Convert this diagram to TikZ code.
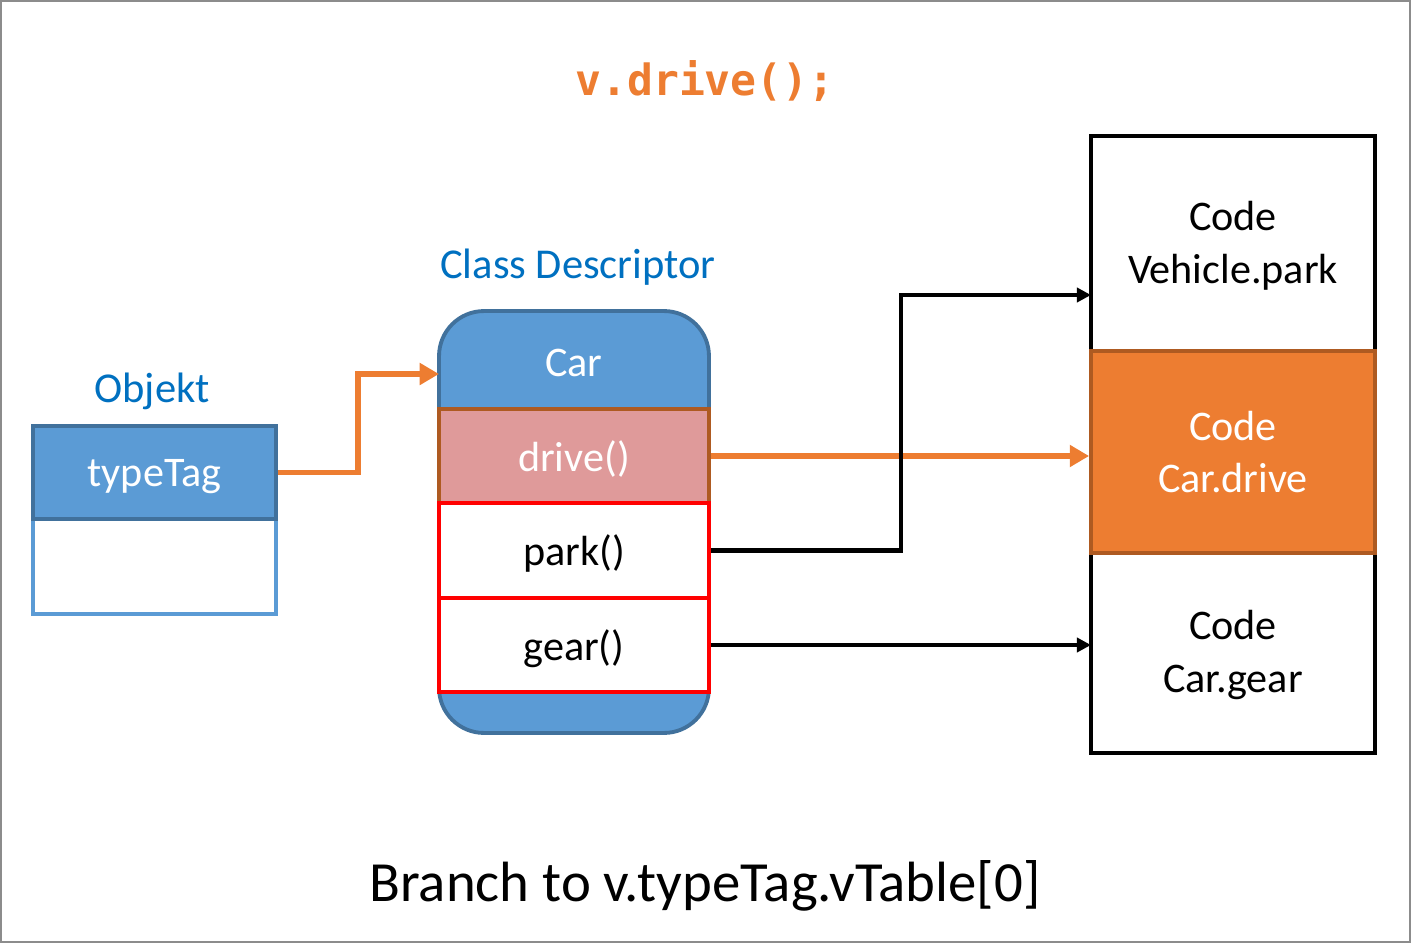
\documentclass[tikz,border=0pt]{standalone}
\usepackage{fontspec}
\setmainfont{Carlito}
\newfontfamily\codefont{DejaVu Sans Mono}
\usepackage{tikz}
\usetikzlibrary{positioning,calc,arrows.meta}

\definecolor{vorange}{HTML}{ED7D31}
\definecolor{vblue}{HTML}{5B9BD5}
\definecolor{vdarkblue}{HTML}{41719C}
\definecolor{vlabel}{HTML}{0070C0}
\definecolor{vpink}{HTML}{DF9A9A}
\definecolor{vbrown}{HTML}{AE5A21}

\tikzset{
  lbl/.style={font=\fontsize{24.2}{30}\selectfont, text=vlabel},
  txt/.style={font=\fontsize{24}{30}\selectfont, align=center},
  cell/.style={draw, minimum width=5.4cm, inner sep=0pt, text depth=0pt},
  orangearrow/.style={draw=vorange, line width=3.2pt, -{Triangle[length=11pt,width=12pt]}},
  blackarrow/.style={draw=black, line width=2.5pt, -{Triangle[length=8pt,width=8pt]}}
}

\begin{document}
\begin{tikzpicture}[x=0.02cm, y=-0.02cm]
    \useasboundingbox (0,0) rectangle (1411,943);
    \draw[black!45, line width=0.6pt] (1,1) rectangle (1410,942);

    % call
    \node (call) at (705,81) {\codefont\bfseries\fontsize{24.5}{28}\selectfont\color{vorange}v.drive();};

    % Objekt
    \node[lbl] (objlbl) at (152,391) {Objekt};
    \node[draw=vblue, line width=2.2pt, fill=white, minimum width=4.86cm, minimum height=1.9cm] (objrest) at (154.5,566.5) {};
    \node[draw=vdarkblue, line width=2.2pt, fill=vblue, text=white, txt, text depth=0pt, minimum width=4.86cm, minimum height=1.86cm] (tt) at (154.5,472.5) {typeTag};

    % Class Descriptor
    \node[lbl] (desclbl) at (578,267) {Class Descriptor};
    \node[draw=vdarkblue, line width=2.2pt, fill=vblue, rounded corners=0.9cm, minimum width=5.4cm, minimum height=8.44cm] (desc) at (574,522) {};
    \node[txt, text=white] (car) at (574,363) {Car};
    \node[cell, draw=vbrown, line width=2.2pt, fill=vpink, text=white, txt, minimum height=1.88cm] (drive) at (574,456) {drive()};
    \node[cell, draw=red, line width=2.4pt, fill=white, txt, minimum height=1.9cm] (park) at (574,550.5) {park()};
    \node[cell, draw=red, line width=2.4pt, fill=white, txt, minimum height=1.88cm] (gear) at (574,645) {gear()};
    \coordinate (descin) at (439,374);

    % Code
    \node[draw, line width=2.4pt, minimum width=5.68cm, minimum height=12.34cm] (code) at (1233,444.5) {};
    \node[txt] (vpark) at (1233,246) {Code\\Vehicle.park};
    \node[draw=vbrown, line width=2.2pt, fill=vorange, text=white, txt, minimum width=5.68cm, minimum height=4.04cm] (cdrive) at (1233,452) {Code\\Car.drive};
    \node[txt] (cgear) at (1233,655) {Code\\Car.gear};
    \coordinate (vparkin) at (1091,295);
    \coordinate (cgearin) at (1091,645);

    % connectors
    \draw[orangearrow] (tt.east) -- ++(80,0) |- (descin);
    \draw[orangearrow] (drive.east) -- (drive.east -| cdrive.west);
    \draw[blackarrow] (park.east) -- ++(190,0) |- (vparkin);
    \draw[blackarrow] (gear.east) -- (cgearin);

    \node[font=\fontsize{32.3}{38}\selectfont] (branch) at (705,886) {Branch to v.typeTag.vTable[0]};
\end{tikzpicture}
\end{document}
